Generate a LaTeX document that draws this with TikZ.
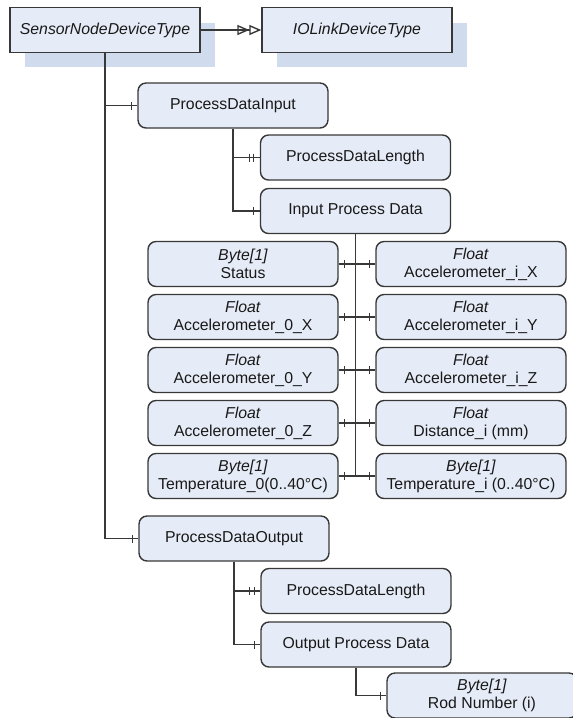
\documentclass[tikz,border=0pt]{standalone}
\usepackage{fontspec}
\setmainfont{Liberation Sans}
\usetikzlibrary{arrows.meta,shadows}
\definecolor{boxfill}{RGB}{230,236,247}
\definecolor{shadefill}{RGB}{208,220,238}
\definecolor{edge}{RGB}{56,56,56}

\begin{document}
\begin{tikzpicture}
  [x=0.02cm,y=-0.02cm,line width=0.8pt,
   every node/.style={draw=edge,fill=boxfill,minimum width=3.8cm,minimum height=0.9cm,
     align=center,text=black!90,font=\fontsize{9}{10.2}\selectfont},
   typebox/.style={rectangle,font=\fontsize{9}{10.2}\selectfont\itshape,
     drop shadow={shadow xshift=0.3cm,shadow yshift=-0.3cm,fill=shadefill,opacity=1}},
   itembox/.style={rounded corners=0.16cm}]
  \useasboundingbox (0,0) rectangle (573,718);
  \clip (0,0) rectangle (573,718);

  \node[typebox] (snd) at (105,30) {SensorNodeDeviceType};
  \node[typebox] (iol) at (357,30) {IOLinkDeviceType};
  \node[itembox] (pdi)  at (233,105.5) {ProcessDataInput};
  \node[itembox] (pdl1) at (355.5,157.5) {ProcessDataLength};
  \node[itembox] (ipd)  at (355.5,211) {Input Process Data};
  \node[itembox] (st)  at (243,264) {\textit{Byte[1]}\\Status};
  \node[itembox] (a0x) at (243,317) {\textit{Float}\\Accelerometer\_0\_X};
  \node[itembox] (a0y) at (243,370) {\textit{Float}\\Accelerometer\_0\_Y};
  \node[itembox] (a0z) at (243,423) {\textit{Float}\\Accelerometer\_0\_Z};
  \node[itembox] (t0)  at (243,476) {\textit{Byte[1]}\\Temperature\_0(0..40°C)};
  \node[itembox] (ax)  at (471,264) {\textit{Float}\\Accelerometer\_i\_X};
  \node[itembox] (ay)  at (471,317) {\textit{Float}\\Accelerometer\_i\_Y};
  \node[itembox] (az)  at (471,370) {\textit{Float}\\Accelerometer\_i\_Z};
  \node[itembox] (dst) at (471,423) {\textit{Float}\\Distance\_i (mm)};
  \node[itembox] (ti)  at (471,476) {\textit{Byte[1]}\\Temperature\_i (0..40°C)};
  \node[itembox] (pdo)  at (234,538.5) {ProcessDataOutput};
  \node[itembox] (pdl2) at (356,591) {ProcessDataLength};
  \node[itembox] (opd)  at (356,644.5) {Output Process Data};
  \node[itembox] (rod)  at (482,695.5) {\textit{Byte[1]}\\Rod Number (i)};

  \draw[edge,-{Triangle[open,length=0.24cm,width=0.2cm]Triangle[open,length=0.24cm,width=0.2cm]}] (snd) -- (iol);

\foreach \from/\to in
{snd/pdi, snd/pdo, pdi/pdl1, pdi/ipd, pdo/pdl2, pdo/opd, opd/rod}
    \draw[edge] (\from.south) |- (\to.west);
  \draw[edge] (ipd.south) -- (ipd.south |- t0.east);
\foreach \from/\to in
{st/ax, a0x/ay, a0y/az, a0z/dst, t0/ti}
    \draw[edge] (\from.east) -- (\to.west);

  % ticks
  \foreach \n in {pdi,ipd,pdo,opd,rod,ax,ay,az,dst,ti}
    \draw[edge,line width=0.5pt] ([xshift=-0.12cm]\n.west) ++(0,-4) -- ++(0,8);
  \foreach \n in {st,a0x,a0y,a0z,t0}
    \draw[edge,line width=0.5pt] ([xshift=0.12cm]\n.east) ++(0,-4) -- ++(0,8);
  \foreach \n in {pdl1,pdl2}
    \draw[edge,line width=0.5pt] ([xshift=-0.21cm]\n.west) ++(0,-4) -- ++(0,8)
      ([xshift=-0.12cm]\n.west) ++(0,-4) -- ++(0,8);
\end{tikzpicture}
\end{document}
